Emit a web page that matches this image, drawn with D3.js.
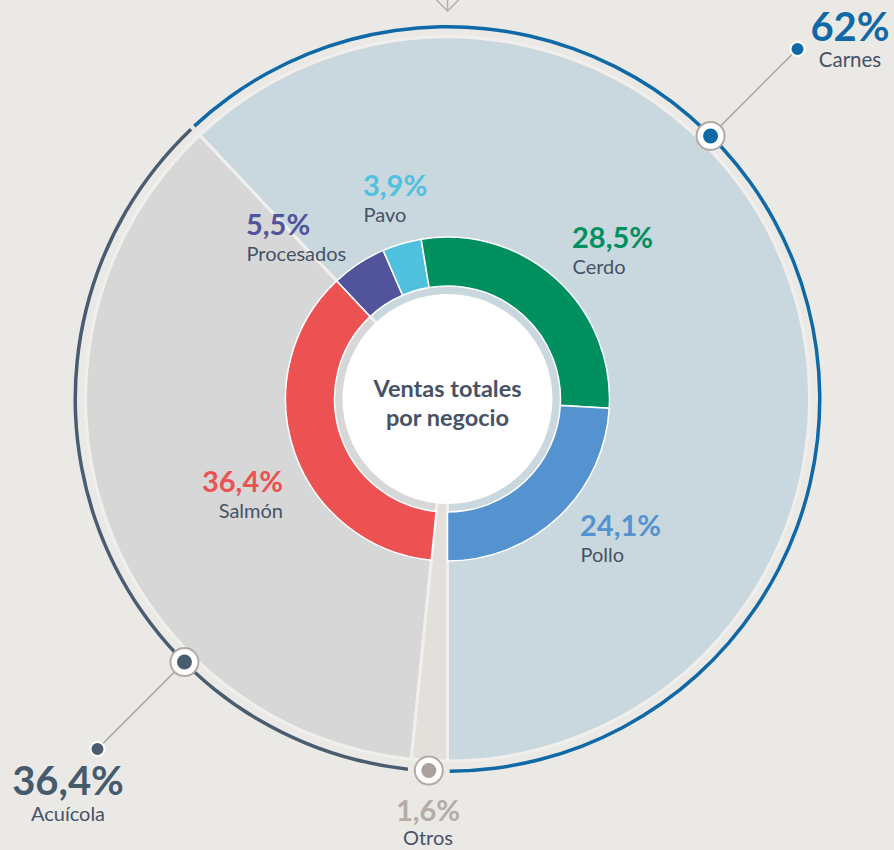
<!DOCTYPE html>
<html>
<head>
<meta charset="utf-8">
<script src="https://cdn.jsdelivr.net/npm/d3@7"></script>
<style>
  body { margin: 0; background: #ebe9e5; }
  svg { display: block; font-family: Lato, "Open Sans", sans-serif; }
</style>
</head>
<body>
<div id="chart"></div>
<script>
// Outer pie: business groups
const groups = ["Carnes", "Otros", "Acuícola"];
const groupValues = [62, 1.6, 36.4];
const groupLabels = ["62%", "1,6%", "36,4%"];

// Inner donut: products (Otros left empty)
const products = ["Procesados", "Pavo", "Cerdo", "Pollo", "Otros", "Salmón"];
const productValues = [5.5, 3.9, 28.5, 24.1, 1.6, 36.4];
const productLabels = ["5,5%", "3,9%", "28,5%", "24,1%", "", "36,4%"];

const width = 894, height = 850;
const cx = 447.5, cy = 399;

const pieColors = { "Carnes": "#c9d7de", "Otros": "#e3e0dc", "Acuícola": "#d7d7d7" };
const ringColors = { "Carnes": "#0f69a6", "Acuícola": "#4a5d70", "Otros": "#aaa19d" };
const productColors = {
    "Procesados": "#51539b", "Pavo": "#4fc1de", "Cerdo": "#00905f",
    "Pollo": "#5593d0", "Otros": "none", "Salmón": "#ec5252"
};

const svg = d3.select("#chart")
    .append("svg")
    .attr("width", width)
    .attr("height", height);

// top arrow
svg.append("path")
    .attr("d", `M${cx - 11},0 L${cx},11 L${cx + 11},0 M${cx},0 L${cx},11`)
    .attr("fill", "none")
    .attr("stroke", "#b5aea9")
    .attr("stroke-width", 1.5);

const g = svg.append("g").attr("transform", `translate(${cx}, ${cy})`);

// Carnes ends at the bottom
const start = Math.PI - groupValues[0] / 100 * 2 * Math.PI;
const pie = d3.pie().sort(null).startAngle(start).endAngle(start + 2 * Math.PI);

const groupData = groups.map((k, i) => ({ key: k, value: groupValues[i], label: groupLabels[i] }));
const productData = products.map((k, i) => ({ key: k, value: productValues[i], label: productLabels[i] }));

const groupArcs = pie.value(d => d.value)(groupData);
const productArcs = pie.value(d => d.value)(productData);

// Big pie
g.selectAll(".slice")
    .data(groupArcs)
    .join("path")
    .attr("class", "slice")
    .attr("d", d3.arc().innerRadius(0).outerRadius(362))
    .attr("fill", d => pieColors[d.data.key])
    .attr("stroke", "#f1efec")
    .attr("stroke-width", 3);

// Outer ring arcs
const ringArc = d3.arc().innerRadius(370.5).outerRadius(374);
g.selectAll(".ring")
    .data(groupArcs.filter(d => d.data.key !== "Otros"))
    .join("path")
    .attr("class", "ring")
    .attr("d", d => ringArc({ startAngle: d.startAngle + 0.006, endAngle: d.endAngle - 0.006 }))
    .attr("fill", d => ringColors[d.data.key]);

// Inner donut
g.selectAll(".seg")
    .data(productArcs.filter(d => d.data.key !== "Otros"))
    .join("path")
    .attr("class", "seg")
    .attr("d", d3.arc().innerRadius(113).outerRadius(162))
    .attr("fill", d => productColors[d.data.key])
    .attr("stroke", "#ffffff")
    .attr("stroke-width", 1.5);

// center circle
g.append("circle")
    .attr("r", 105)
    .attr("fill", "#ffffff");

g.append("text")
    .attr("text-anchor", "middle")
    .attr("y", -2)
    .style("font-size", "23.5px")
    .style("font-weight", "bold")
    .style("fill", "#465266")
    .text("Ventas totales");
g.append("text")
    .attr("text-anchor", "middle")
    .attr("y", 27)
    .style("font-size", "23.5px")
    .style("font-weight", "bold")
    .style("fill", "#465266")
    .text("por negocio");

// Markers on the outer ring
const markerAngle = { "Carnes": Math.PI / 4, "Acuícola": Math.PI * 5 / 4 };
const polar = (a, r) => [r * Math.sin(a), -r * Math.cos(a)];

groupArcs.forEach(d => {
    const key = d.data.key;
    const a = markerAngle[key] !== undefined ? markerAngle[key] : (d.startAngle + d.endAngle) / 2;
    const [mx, my] = polar(a, 372);

    if (key !== "Otros") {
        const [ex, ey] = polar(a, 495);
        g.append("line")
            .attr("x1", mx).attr("y1", my)
            .attr("x2", ex).attr("y2", ey)
            .attr("stroke", "#aaa4a0")
            .attr("stroke-width", 1.5);
        g.append("circle")
            .attr("cx", ex).attr("cy", ey)
            .attr("r", 7)
            .attr("fill", ringColors[key])
            .attr("stroke", "#ffffff")
            .attr("stroke-width", 2);
    }

    g.append("circle")
        .attr("cx", mx).attr("cy", my)
        .attr("r", 14)
        .attr("fill", "#ffffff")
        .attr("stroke", "#b3aaa6")
        .attr("stroke-width", 2);
    g.append("circle")
        .attr("cx", mx).attr("cy", my)
        .attr("r", 7.5)
        .attr("fill", ringColors[key]);
});

// Group labels
const groupLabelPos = {
    "Carnes":   { x: 850, y: 41, size: 40, nameSize: 20.5, dy: 26, color: "#0f69a6" },
    "Acuícola": { x: 68, y: 795, size: 40, nameSize: 20, dy: 26, color: "#465a6e" },
    "Otros":    { x: 428, y: 821, size: 29, nameSize: 20, dy: 24, color: "#b5aca8" }
};
groupData.forEach(d => {
    const p = groupLabelPos[d.key];
    svg.append("text")
        .attr("x", p.x).attr("y", p.y)
        .attr("text-anchor", "middle")
        .style("font-size", p.size + "px")
        .style("font-weight", "bold")
        .style("fill", p.color)
        .text(d.label);
    svg.append("text")
        .attr("x", p.x).attr("y", p.y + p.dy)
        .attr("text-anchor", "middle")
        .style("font-size", p.nameSize + "px")
        .style("fill", "#465266")
        .text(d.key);
});

// Product labels
const productLabelPos = {
    "Procesados": { x: 246, y: 235, anchor: "start" },
    "Pavo":       { x: 363, y: 196, anchor: "start" },
    "Cerdo":      { x: 572, y: 248, anchor: "start" },
    "Pollo":      { x: 580, y: 536, anchor: "start" },
    "Salmón":     { x: 283, y: 492, anchor: "end" }
};
productData.filter(d => productLabelPos[d.key]).forEach(d => {
    const p = productLabelPos[d.key];
    svg.append("text")
        .attr("x", p.x).attr("y", p.y)
        .attr("text-anchor", p.anchor)
        .style("font-size", "29px")
        .style("font-weight", "bold")
        .style("fill", productColors[d.key])
        .text(d.label);
    svg.append("text")
        .attr("x", p.x + (p.anchor === "start" ? 0.5 : 0)).attr("y", p.y + 25.5)
        .attr("text-anchor", p.anchor)
        .style("font-size", "20px")
        .style("fill", "#465266")
        .text(d.key);
});
</script>
</body>
</html>
